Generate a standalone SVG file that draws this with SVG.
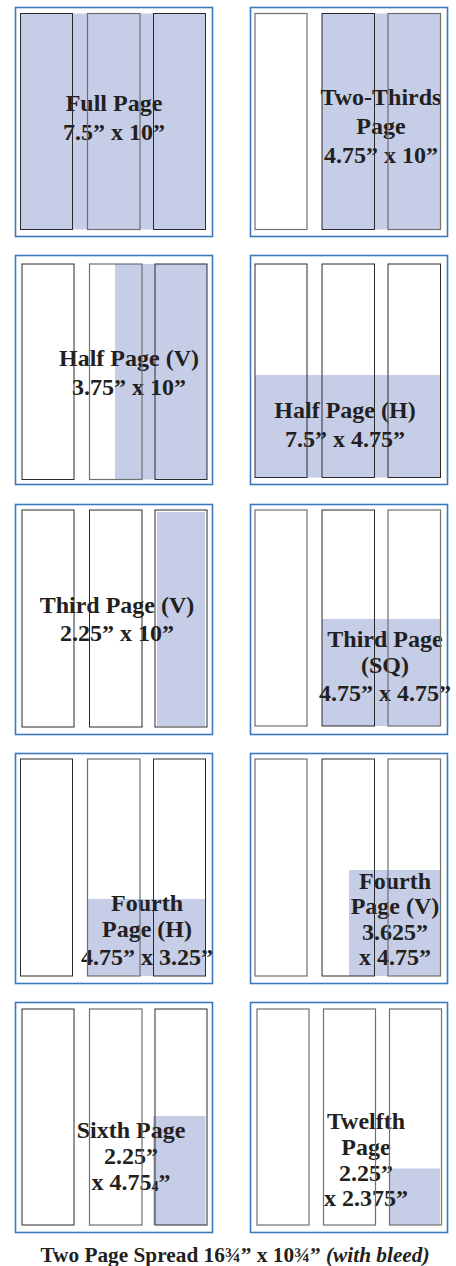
<svg xmlns="http://www.w3.org/2000/svg" width="456" height="1266" viewBox="0 0 456 1266">
<style>
.bg{fill:#ffffff}
.frame{fill:none;stroke:#3b78bd;stroke-width:1.6}
.fill{fill:#c6cde7}
.col{fill:none;stroke:#2a2a2a;stroke-width:1}
.colg{fill:none;stroke:#707070;stroke-width:1.2}
.t{font-family:"Liberation Serif","Times New Roman",serif;font-weight:bold;font-size:24px;fill:#231f20;text-anchor:middle}
.cap{font-family:"Liberation Serif","Times New Roman",serif;font-weight:bold;font-size:21.3px;fill:#231f20;text-anchor:middle}
</style>
<rect class="bg" x="0" y="0" width="456" height="1266"/>

<g id="full-page">
<rect class="frame" x="15.5" y="7.5" width="197" height="229"/>
<rect class="fill" x="20.5" y="13.5" width="185.5" height="216"/>
<text class="t" x="114" y="111">Full Page</text>
<text class="t" x="114" y="140">7.5” x 10”</text>
<rect class="col" x="20.5" y="13.5" width="52" height="216"/>
<rect class="colg" x="87.5" y="13.5" width="52.5" height="216"/>
<rect class="col" x="153.5" y="13.5" width="52" height="216"/>
</g>

<g id="two-thirds-page">
<rect class="frame" x="250.5" y="7.5" width="197" height="229"/>
<rect class="fill" x="322" y="13.5" width="118.5" height="216"/>
<text class="t" x="381" y="105">Two-Thirds</text>
<text class="t" x="381" y="134">Page</text>
<text class="t" x="381" y="163">4.75” x 10”</text>
<rect class="colg" x="255" y="13.5" width="52" height="216"/>
<rect class="col" x="322" y="13.5" width="52.5" height="216"/>
<rect class="colg" x="388" y="13.5" width="52.5" height="216"/>
</g>

<g id="half-page-v">
<rect class="frame" x="15.5" y="255.5" width="197" height="229"/>
<rect class="fill" x="115" y="264" width="92" height="215.5"/>
<text class="t" x="129" y="366">Half Page (V)</text>
<text class="t" x="129" y="395">3.75” x 10”</text>
<rect class="col" x="22" y="264" width="52" height="215.5"/>
<rect class="colg" x="89.5" y="264" width="52.5" height="215.5"/>
<rect class="col" x="155" y="264" width="52" height="215.5"/>
</g>

<g id="half-page-h">
<rect class="frame" x="250.5" y="255.5" width="197" height="229"/>
<rect class="fill" x="255" y="375" width="185.5" height="102.5"/>
<text class="t" x="345" y="418">Half Page (H)</text>
<text class="t" x="345" y="447">7.5” x 4.75”</text>
<rect class="col" x="255" y="264" width="52" height="213.5"/>
<rect class="col" x="322" y="264" width="52.5" height="213.5"/>
<rect class="col" x="388" y="264" width="52.5" height="213.5"/>
</g>

<g id="third-page-v">
<rect class="frame" x="15.5" y="504.5" width="197" height="230"/>
<rect class="fill" x="157" y="512" width="48" height="214"/>
<text class="t" x="117" y="613">Third Page (V)</text>
<text class="t" x="117" y="641">2.25” x 10”</text>
<rect class="col" x="22" y="510" width="52" height="217"/>
<rect class="col" x="89.5" y="510" width="52.5" height="217"/>
<rect class="col" x="155" y="510" width="52" height="217"/>
</g>

<g id="third-page-sq">
<rect class="frame" x="250.5" y="504.5" width="197" height="230"/>
<rect class="fill" x="322" y="619" width="118.5" height="107"/>
<text class="t" x="385" y="647">Third Page</text>
<text class="t" x="385" y="673">(SQ)</text>
<text class="t" x="385" y="701">4.75” x 4.75”</text>
<rect class="colg" x="255" y="510" width="52" height="216"/>
<rect class="col" x="322" y="510" width="52.5" height="216"/>
<rect class="colg" x="388" y="510" width="52.5" height="216"/>
</g>

<g id="fourth-page-h">
<rect class="frame" x="15.5" y="753.5" width="197" height="230"/>
<rect class="fill" x="87.5" y="899" width="118" height="77"/>
<text class="t" x="147" y="911">Fourth</text>
<text class="t" x="147" y="937">Page (H)</text>
<text class="t" x="147" y="965">4.75” x 3.25”</text>
<rect class="col" x="20.5" y="759" width="52" height="217"/>
<rect class="colg" x="87.5" y="759" width="52.5" height="217"/>
<rect class="col" x="153.5" y="759" width="52" height="217"/>
</g>

<g id="fourth-page-v">
<rect class="frame" x="250.5" y="753.5" width="197" height="230"/>
<rect class="fill" x="349" y="870" width="91.5" height="106"/>
<text class="t" x="395" y="889">Fourth</text>
<text class="t" x="395" y="914">Page (V)</text>
<text class="t" x="395" y="940">3.625”</text>
<text class="t" x="395" y="965">x 4.75”</text>
<rect class="colg" x="255" y="759" width="52" height="217"/>
<rect class="col" x="322" y="759" width="52.5" height="217"/>
<rect class="colg" x="388" y="759" width="52.5" height="217"/>
</g>

<g id="sixth-page">
<rect class="frame" x="15.5" y="1002.5" width="197" height="230"/>
<rect class="fill" x="153" y="1116" width="52.5" height="109"/>
<text class="t" x="131" y="1138">Sixth Page</text>
<text class="t" x="131" y="1164">2.25”</text>
<text class="t" x="131" y="1190">x 4.75<tspan font-size="14" dy="1">4</tspan><tspan dy="-1">”</tspan></text>
<rect class="col" x="22" y="1009" width="52" height="216"/>
<rect class="colg" x="89.5" y="1009" width="52.5" height="216"/>
<rect class="col" x="155" y="1009" width="52" height="216"/>
</g>

<g id="twelfth-page">
<rect class="frame" x="250.5" y="1002.5" width="197" height="230"/>
<rect class="fill" x="389.5" y="1168.5" width="50.5" height="56.5"/>
<text class="t" x="366" y="1129">Twelfth</text>
<text class="t" x="366" y="1155">Page</text>
<text class="t" x="366" y="1181">2.25”</text>
<text class="t" x="366" y="1206">x 2.375”</text>
<rect class="colg" x="257" y="1009" width="52" height="216"/>
<rect class="colg" x="323.5" y="1009" width="52" height="216"/>
<rect class="colg" x="389.5" y="1009" width="52" height="216"/>
</g>

<g id="connectors"></g>

<text class="cap" x="235" y="1262">Two Page Spread 16¾” x 10¾”  <tspan font-style="italic">(with bleed)</tspan></text>
</svg>
